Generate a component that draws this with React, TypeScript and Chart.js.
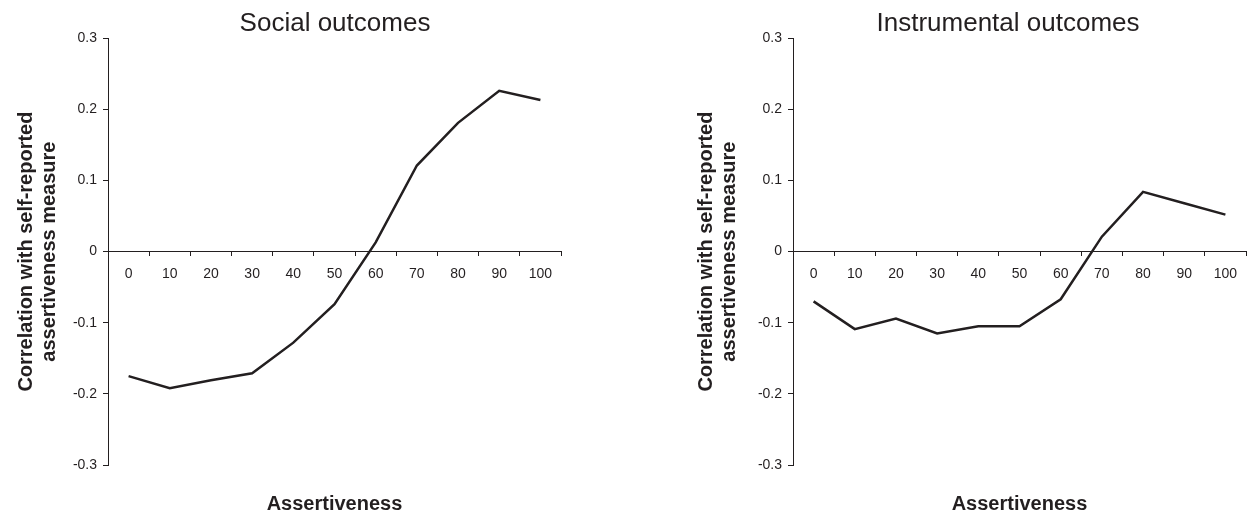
import React, { useEffect, useRef } from "react";
import { Chart, registerables } from "chart.js";

Chart.register(...registerables);

const categories = ["0", "10", "20", "30", "40", "50", "60", "70", "80", "90", "100"];
const socialValues = [-0.175, -0.192, -0.181, -0.171, -0.128, -0.074, 0.013, 0.121, 0.181, 0.226, 0.213];
const instrumentalValues = [-0.07, -0.109, -0.094, -0.115, -0.105, -0.105, -0.067, 0.021, 0.084, 0.068, 0.052];
const yMin = -0.3;
const yMax = 0.3;
const yStep = 0.1;
const yTitleLines = ["Correlation with self-reported", "assertiveness measure"];
const xTitle = "Assertiveness";

const FONT = "'Liberation Sans', Arial, Helvetica, sans-serif";
const INK = "#231f20";

type PanelProps = {
  title: string;
  values: number[];
  left: number;
  width: number;
  rightSpace: number;
  yTitlePad: number;
};

function Panel({ title, values, left, width, rightSpace, yTitlePad }: PanelProps) {
  const ref = useRef<HTMLCanvasElement | null>(null);
  useEffect(() => {
    if (!ref.current) return;
    const chart = new Chart(ref.current, {
      type: "line",
      data: {
        labels: categories,
        datasets: [
          {
            data: values,
            borderColor: INK,
            borderWidth: 2.5,
            pointRadius: 0,
            tension: 0,
            fill: false,
          },
        ],
      },
      options: {
        responsive: false,
        animation: false,
        layout: { padding: 0 },
        plugins: {
          legend: { display: false },
          tooltip: { enabled: false },
          title: {
            display: true,
            text: title,
            fullSize: true,
            color: INK,
            font: { family: FONT, size: 26, weight: "normal", lineHeight: 1.2 },
            padding: { top: 8, bottom: -1 },
          },
        },
        scales: {
          x: {
            type: "category",
            position: { y: 0 } as any,
            offset: true,
            grid: {
              display: true,
              offset: true,
              drawOnChartArea: false,
              drawTicks: true,
              tickLength: 4,
              color: INK,
              lineWidth: 1,
            },
            border: { display: true, color: INK, width: 1 },
            ticks: {
              color: INK,
              padding: 10,
              maxRotation: 0,
              autoSkip: false,
              font: { family: FONT, size: 14 },
            },
          },
          x2: {
            type: "category",
            position: "bottom",
            offset: true,
            grid: { display: false },
            border: { display: false },
            ticks: { display: false },
            title: {
              display: true,
              text: xTitle,
              color: INK,
              font: { family: FONT, size: 20, weight: "bold", lineHeight: 1.0 },
              padding: { top: 0, bottom: 0 },
            },
            afterFit: (s: any) => {
              s.height = 49;
            },
          },
          y: {
            type: "linear",
            position: "left",
            min: yMin,
            max: yMax,
            ticks: {
              stepSize: yStep,
              color: INK,
              padding: 6,
              font: { family: FONT, size: 14 },
            },
            grid: {
              display: true,
              drawOnChartArea: false,
              drawTicks: true,
              tickLength: 5,
              color: INK,
              lineWidth: 1,
            },
            border: { display: true, color: INK, width: 1 },
            title: {
              display: true,
              text: yTitleLines,
              color: INK,
              font: { family: FONT, size: 20, weight: "bold", lineHeight: 1.15 },
              padding: { top: yTitlePad, bottom: 0 },
            },
            afterFit: (s: any) => {
              s.width = 108;
            },
          },
          ySpacer: {
            type: "linear",
            position: "right",
            grid: { display: false },
            border: { display: false },
            ticks: { display: false },
            afterFit: (s: any) => {
              s.width = rightSpace;
            },
          },
        },
      },
    });
    return () => chart.destroy();
  }, [title, values, rightSpace, yTitlePad]);
  return (
    <canvas
      ref={ref}
      width={width}
      height={514}
      style={{ position: "absolute", left, top: 0, width, height: 514, display: "block" }}
    />
  );
}

export default function App() {
  return (
    <div
      style={{
        position: "absolute",
        left: 0,
        top: 0,
        width: 1250,
        height: 514,
        overflow: "hidden",
        background: "#fff",
      }}
    >
      <Panel title="Social outcomes" values={socialValues} left={0} width={670} rightSpace={109} yTitlePad={15} />
      <Panel title="Instrumental outcomes" values={instrumentalValues} left={685} width={646} rightSpace={85} yTitlePad={10} />
    </div>
  );
}
